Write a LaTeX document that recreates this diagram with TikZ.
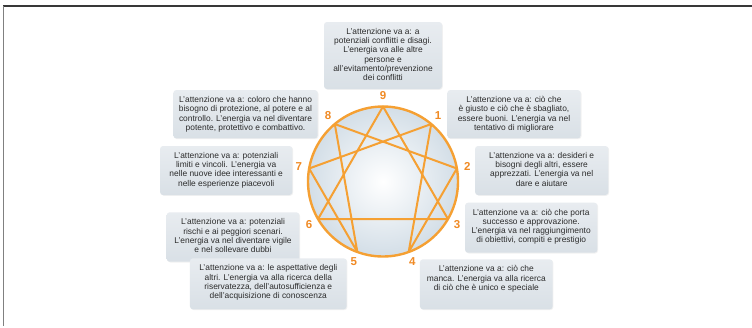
\documentclass[tikz,border=0pt]{standalone}
\usepackage{fontspec}
\setmainfont{Liberation Sans}
\usetikzlibrary{shadows}
\definecolor{orng}{HTML}{F5A033}
\definecolor{numorng}{HTML}{F08A24}
\definecolor{boxtop}{HTML}{E8ECF0}
\definecolor{boxbot}{HTML}{D9E0E6}
\definecolor{circedge}{HTML}{D3DEE7}
\definecolor{txt}{HTML}{2B2B2B}
\newcommand{\mkbox}[6]{%
  \node[infobox, minimum width=#4pt, minimum height=#5pt] (b#1) at (#2,#3) {};
  \node[infotext] (t#1) at ([yshift=-6.5pt]b#1.north) {#6};
}
\begin{document}
\begin{tikzpicture}[x=1pt,y=-1pt,
  infobox/.style={draw=none, rounded corners=3pt, top color=boxtop, bottom color=boxbot, inner sep=0pt,
    drop shadow={opacity=0.10, shadow xshift=0.8pt, shadow yshift=-0.8pt}},
  infotext/.style={anchor=north, inner sep=0pt, align=center, font=\fontsize{8.4}{9.2}\selectfont, text=txt},
  enneanum/.style={font=\fontsize{11.5}{12}\selectfont\bfseries, text=numorng, inner sep=0pt},
  ennealine/.style={draw=orng, line width=2pt, line join=round}]
\useasboundingbox (0,0) rectangle (752,327);
\fill[white] (0,0) rectangle (752,327);
% frame
\draw[line width=1.5pt, color=black!78] (3.3,6) -- (752,6);
\draw[line width=1.5pt, color=black!50] (3.3,6) -- (3.3,326);
% boxes
\mkbox{9}{383}{55.5}{118}{67}{L’attenzione va a: a\\potenziali conflitti e disagi.\\L’energia va alle altre\\persone e\\all’evitamento/prevenzione\\dei conflitti}
\mkbox{8}{245.5}{114.2}{144.4}{48.3}{L’attenzione va a: coloro che hanno\\bisogno di protezione, al potere e al\\controllo. L’energia va nel diventare\\potente, protettivo e combattivo.}
\mkbox{1}{514}{114.2}{133.4}{48.3}{L’attenzione va a: ciò che\\è giusto e ciò che è sbagliato,\\essere buoni. L’energia va nel\\tentativo di migliorare}
\mkbox{7}{226.2}{170.5}{132.3}{49}{L’attenzione va a: potenziali\\limiti e vincoli. L’energia va\\nelle nuove idee interessanti e\\nelle esperienze piacevoli}
\mkbox{2}{541.7}{170.5}{133.3}{49}{L’attenzione va a: desideri e\\bisogni degli altri, essere\\apprezzati. L’energia va nel\\dare e aiutare}
\mkbox{6}{233}{237}{132.6}{49.4}{L’attenzione va a: potenziali\\rischi e ai peggiori scenari.\\L’energia va nel diventare vigile\\e nel sollevare dubbi}
\mkbox{3}{531.2}{227.7}{132.3}{50}{L’attenzione va a: ciò che porta\\successo e approvazione.\\L’energia va nel raggiungimento\\di obiettivi, compiti e prestigio}
\mkbox{5}{268.3}{283.8}{156.7}{51}{L’attenzione va a: le aspettative degli\\altri. L’energia va alla ricerca della\\riservatezza, dell’autosufficienza e\\dell’acquisizione di conoscenza}
\mkbox{4}{486.3}{284.3}{132.7}{50}{L’attenzione va a: ciò che\\manca. L’energia va alla ricerca\\di ciò che è unico e speciale}
% enneagram
\begin{scope}[shift={(383,181.5)}]
  \coordinate (c) at (0,0);
  \shade[inner color=white, outer color=circedge] (c) circle (75);
  \foreach \k in {1,...,9} {
    \coordinate (p\k) at ({40*\k-90}:75);
    \node[enneanum] (n\k) at ({40*\k-90}:85.5) {\k};
  }
  \draw[ennealine] (p9) -- (p3) -- (p6) -- cycle;
  \draw[ennealine] (p1) -- (p4) -- (p2) -- (p8) -- (p5) -- (p7) -- cycle;
  \draw[orng, line width=2.4pt] (c) circle (75);
\end{scope}
\end{tikzpicture}
\end{document}
